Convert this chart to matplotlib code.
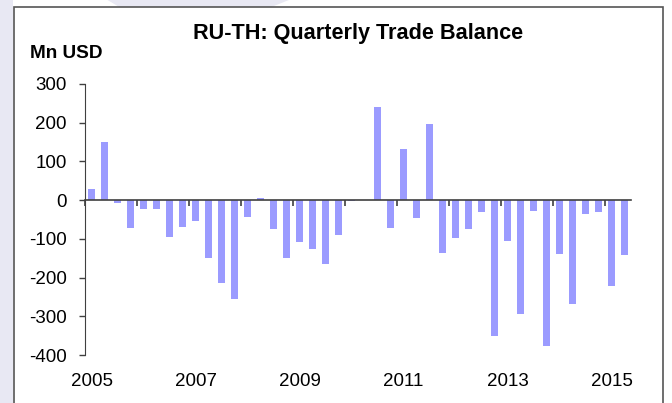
import numpy as np
import matplotlib
matplotlib.use("Agg")
import matplotlib.pyplot as plt
from matplotlib.patches import Rectangle, Polygon

plt.rcParams['font.family'] = ['Liberation Sans', 'DejaVu Sans']

# quarterly balance, 2005Q1 .. 2015Q2, Mn USD
balance = [28, 150, -8, -72,
           -24, -23, -94, -69,
           -54, -150, -215, -255,
           -44, 5, -74, -150,
           -108, -126, -166, -91,
           -2, 0, 240, -71,
           132, -45, 196, -137,
           -98, -75, -31, -352,
           -106, -295, -28, -378,
           -140, -268, -35, -31,
           -222, -141]
years = list(range(2005, 2016))
year_labels = ["2005", "2007", "2009", "2011", "2013", "2015"]
yticks = [-400, -300, -200, -100, 0, 100, 200, 300]

fig = plt.figure(figsize=(6.72, 4.03), dpi=100)

# page background and chart frame
fig.patches.append(Polygon([[0, 0], [0.02, 0], [0.02, 1], [0, 1]], closed=True,
                           transform=fig.transFigure, facecolor="#e8e8f3",
                           edgecolor="none", zorder=-3))
fig.patches.append(Polygon([[0.16, 1], [0.43, 1], [0.40, 0.98], [0.18, 0.98]], closed=True,
                           transform=fig.transFigure, facecolor="#e8e8f3",
                           edgecolor="none", zorder=-3))
fig.patches.append(Rectangle((13.5 / 672, -0.05), (663 - 13.5) / 672, 1.05 - 6.7 / 403,
                             transform=fig.transFigure, facecolor="white",
                             edgecolor="#555555", linewidth=1.2, zorder=-2))

ax = fig.add_axes([85 / 672, 1 - 355 / 403, (631 - 85) / 672, (355 - 84) / 403])
ax.patch.set_alpha(0)

x = np.arange(len(balance)) + 0.5
ax.bar(x, balance, width=0.6, color="#9b9bff", edgecolor="none")

ax.set_xlim(0, len(balance))
ax.set_ylim(-400, 300)
ax.set_yticks(yticks)
ax.set_yticklabels([str(v) for v in yticks])

axis_col = "#404040"
for s in ["top", "right"]:
    ax.spines[s].set_visible(False)
ax.spines["left"].set_color(axis_col)
ax.spines["bottom"].set_position(("data", 0))
ax.spines["bottom"].set_color(axis_col)
ax.spines["bottom"].set_linewidth(1.2)

ax.set_xticks([(y - 2005) * 4 for y in years])
ax.set_xticklabels([])
ax.tick_params(axis="x", direction="out", length=4, width=1.2, color=axis_col)
ax.tick_params(axis="y", direction="out", length=4, width=1, color=axis_col,
               pad=9, labelsize=13.5)

sec = ax.secondary_xaxis(0.0)
sec.set_xticks([(int(l) - 2005) * 4 + 0.5 for l in year_labels])
sec.set_xticklabels(year_labels)
sec.tick_params(length=0, pad=13, labelsize=13.5)
sec.spines["bottom"].set_visible(False)

fig.text(358 / 672, 1 - 33 / 403, "RU-TH: Quarterly Trade Balance", ha="center", va="center",
         fontsize=15.6, fontweight="bold")
fig.text(30 / 672, 1 - 53 / 403, "Mn USD", ha="left", va="center",
         fontsize=13.7, fontweight="bold")

fig.savefig("out.png", dpi=100)
